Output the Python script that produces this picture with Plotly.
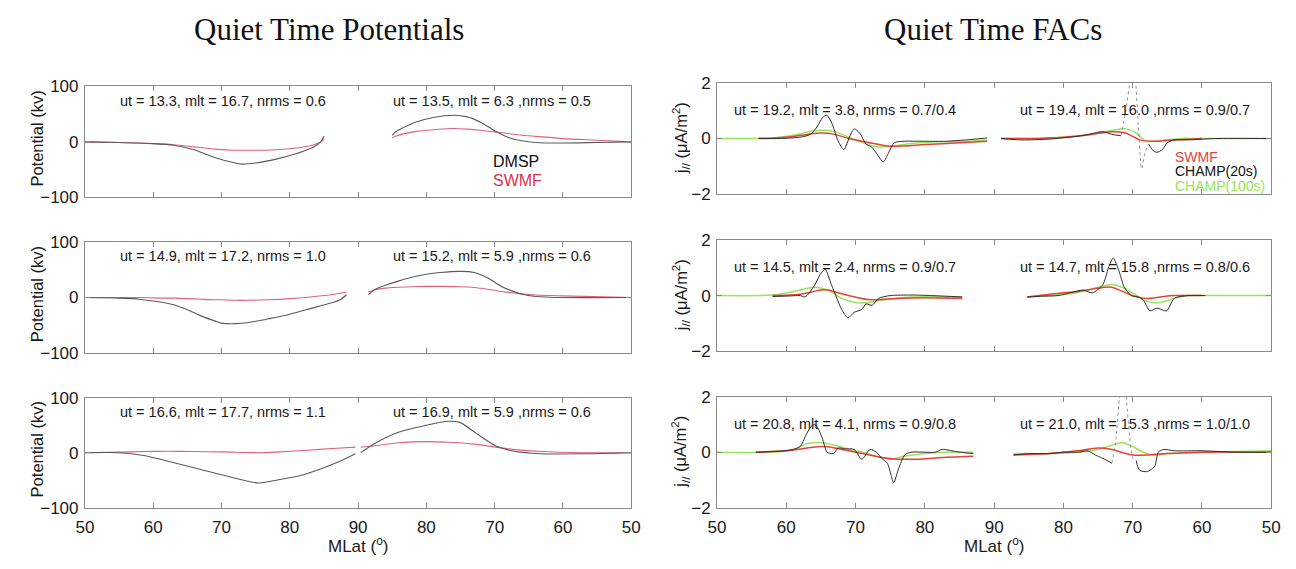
import plotly.graph_objects as go

W, H = 1296, 569

# ---------------- along-track latitude axis ----------------
TRACK_TICKS = [50, 60, 70, 80, 90, 80, 70, 60, 50]

# ---------------- Quiet time potentials (kV) ----------------
# row 1
POT1_UP_MLAT = [50, 55, 60, 63, 66, 69, 72, 73, 75, 78, 81, 83, 84, 84.7, 85]
POT1_UP_DMSP = [0, -1, -3, -6, -14, -28, -38, -40, -38, -31, -21, -12, -5, 3, 10]
POT1_UP_SWMF = [0, -1, -3, -5, -9, -13, -15, -15, -15, -14, -11, -7, -3, 1, 5]
POT1_DN_MLAT = [85, 84.5, 83.5, 81.5, 79, 76, 74, 72, 70, 68, 66, 64, 60, 55, 50]
POT1_DN_DMSP = [12, 18, 25, 36, 44, 48, 45, 35, 20, 8, 2, -1, -2, -1, 0]
POT1_DN_SWMF = [7, 10, 14, 19, 22, 24, 23, 21, 18, 15, 12, 10, 6, 3, 0]
# row 2
POT2_UP_MLAT = [50, 55, 58, 61, 63, 65, 67, 69, 70, 72, 74, 77, 80, 83, 86, 87.5, 88.3]
POT2_UP_DMSP = [0, -1, -3, -8, -13, -22, -33, -42, -46, -47, -45, -38, -30, -20, -10, -3, 5]
POT2_UP_SWMF = [0, 0, 0, -1, -1, -2, -3, -4, -4, -5, -5, -4, -2, 1, 5, 8, 10]
POT2_DN_MLAT = [88.5, 87.5, 86, 84, 82, 80, 78, 75, 73, 71, 69, 67.5, 66, 64, 60, 50]
POT2_DN_DMSP = [5, 15, 22, 30, 37, 42, 45, 47, 45, 35, 20, 12, 6, 2, 0, 0]
POT2_DN_SWMF = [10, 14, 17, 18.5, 19.5, 20, 20, 19.5, 18, 15, 11, 8.5, 6.5, 4.5, 3, 0]
# row 3
POT3_UP_MLAT = [50, 55, 58.6, 62, 65.8, 70, 75.4, 78, 82, 86.9, 89.6]
POT3_UP_DMSP = [0, 0, -5, -15, -27, -40, -55, -50, -40, -18, -2]
POT3_UP_SWMF = [0, 1, 2, 2.5, 2, 1.5, 0, 1, 4, 8, 10]
POT3_DN_MLAT = [89.6, 87.8, 84.1, 79.9, 76.9, 75.1, 72.7, 69.8, 67.3, 63.2, 57.1, 50]
POT3_DN_DMSP = [0, 15, 37, 50, 57, 55, 35, 12, 3, -2, -2, 0]
POT3_DN_SWMF = [10, 12, 18, 20, 19, 18, 15, 10, 6, 2, 0, 0]

# ---------------- Quiet time FACs (uA/m^2) ----------------
# row 1
FAC1_UP_CH20_MLAT = [56, 59, 62, 63.5, 64.5, 65.2, 65.8, 66.5, 67.5, 68.3, 69.2, 69.8, 70.6,
                     71.5, 72.3, 73.2, 74, 74.8, 75.6, 77, 80, 83, 86, 89]
FAC1_UP_CH20 = [0, 0, 0.05, 0.15, 0.45, 0.75, 0.85, 0.6, -0.1, -0.4, 0.1, 0.35, 0.2,
                -0.2, -0.3, -0.6, -0.85, -0.5, -0.15, -0.1, -0.1, -0.1, -0.05, 0.02]
FAC1_UP_SWMF_MLAT = [56, 60, 63, 65, 67, 69, 72, 75, 80, 85, 89]
FAC1_UP_SWMF = [0, 0.05, 0.15, 0.2, 0.15, 0, -0.15, -0.28, -0.22, -0.15, -0.1]
FAC1_UP_CH100_MLAT = [50, 55, 58, 61, 64, 65.5, 67, 69, 71, 73, 75, 78, 82, 86, 89]
FAC1_UP_CH100 = [0, 0, 0.02, 0.12, 0.28, 0.3, 0.25, 0.05, -0.15, -0.3, -0.28, -0.18, -0.12, -0.1, -0.05]
FAC1_DN_CH20_MLAT = [89, 86, 82, 79, 77, 75.5, 74.3, 73, 71.7]
FAC1_DN_CH20 = [0, -0.05, -0.02, 0.05, 0.12, 0.2, 0.25, 0.15, 0.1]
FAC1_DN_SPIKE_MLAT = [71.7, 71, 70.4, 69.8, 69.2, 68.7, 68.2, 67.7]
FAC1_DN_SPIKE = [0.1, 1.0, 2.0, 2.5, 0.5, -1.1, -0.5, -0.2]
FAC1_DN_CH20B_MLAT = [67.7, 67, 66.5, 65.7, 65, 64, 62, 58, 50]
FAC1_DN_CH20B = [-0.2, -0.45, -0.5, -0.4, -0.15, -0.05, -0.05, 0, 0]
FAC1_DN_SWMF_MLAT = [89, 85, 80, 76, 73, 71, 69, 67, 64, 60]
FAC1_DN_SWMF = [0, 0, 0.05, 0.15, 0.25, 0.2, -0.05, -0.1, -0.05, 0]
FAC1_DN_CH100_MLAT = [89, 85, 80, 76, 73, 71, 69.5, 68, 66, 63, 58, 50]
FAC1_DN_CH100 = [0, 0, 0.05, 0.15, 0.3, 0.35, 0.2, -0.1, -0.08, 0, 0, 0]
# row 2
FAC2_UP_CH20_MLAT = [58, 60, 62, 62.7, 63.9, 65, 65.6, 66.5, 67.3, 68, 68.9, 69.8, 70.9,
                     71.5, 72.4, 73.3, 75, 78, 81, 85.4]
FAC2_UP_CH20 = [-0.03, -0.02, 0, -0.05, 0.3, 0.8, 0.95, 0.4, -0.1, -0.5, -0.8, -0.6, -0.5,
                -0.3, -0.35, -0.1, 0, 0.02, 0, -0.05]
FAC2_UP_SWMF_MLAT = [58, 62, 65, 66, 69, 72, 76, 80, 85.4]
FAC2_UP_SWMF = [0, 0.05, 0.2, 0.2, 0, -0.15, -0.1, -0.08, -0.1]
FAC2_UP_CH100_MLAT = [50, 56, 59, 62, 64, 66, 68, 70, 72, 74, 78, 85.4]
FAC2_UP_CH100 = [0, 0, 0.05, 0.2, 0.3, 0.2, -0.1, -0.25, -0.25, -0.15, -0.05, -0.05]
FAC2_DN_CH20_MLAT = [85.2, 83, 80.8, 79, 77.2, 75.8, 74.3, 73.5, 72.8, 72, 71.2, 70.2, 69.2,
                     68.5, 67.5, 66.5, 65.1, 64, 62, 59.5]
FAC2_DN_CH20 = [-0.05, -0.02, 0, 0.1, 0.2, 0.1, 0.4, 1.0, 1.35, 0.9, 0.3, 0, -0.05,
                -0.15, -0.55, -0.45, -0.55, -0.1, 0, 0]
FAC2_DN_SWMF_MLAT = [85.2, 82, 78, 74, 73, 70, 68, 66, 64, 60]
FAC2_DN_SWMF = [-0.05, 0.05, 0.15, 0.3, 0.3, 0, -0.1, -0.05, 0, 0]
FAC2_DN_CH100_MLAT = [85.2, 82, 78, 75, 73, 71.5, 70, 68, 66, 64, 62, 58, 50]
FAC2_DN_CH100 = [-0.05, 0, 0.1, 0.3, 0.4, 0.3, 0.1, -0.2, -0.25, -0.1, 0, 0, 0]
# row 3
FAC3_UP_CH20_MLAT = [55.6, 59.7, 61, 62, 62.8, 63.5, 64.1, 64.6, 65.2, 65.9, 66.8, 67.5, 68.5,
                     69.8, 70.9, 72.1, 73, 73.9, 74.6, 75.1, 75.5, 76.2, 77.1, 78, 81.5,
                     82.5, 85, 87]
FAC3_UP_CH20 = [0, 0.05, 0.1, 0.2, 0.6, 0.9, 1.0, 0.85, 0.5, 0.0, -0.05, 0.15, 0.12,
                0.1, -0.25, 0.1, 0, -0.25, -0.4, -0.8, -1.1, -0.6, -0.1, 0, 0.0,
                0.1, 0, -0.05]
FAC3_UP_SWMF_MLAT = [55.6, 60, 63, 64.5, 66, 68, 70, 72, 74, 76, 79, 82, 87]
FAC3_UP_SWMF = [0, 0.05, 0.15, 0.2, 0.2, 0.1, 0, -0.1, -0.2, -0.25, -0.25, -0.2, -0.15]
FAC3_UP_CH100_MLAT = [50, 58, 61, 63, 65, 67, 69, 71, 73, 75, 77, 80, 83, 87]
FAC3_UP_CH100 = [0, 0, 0.1, 0.3, 0.35, 0.25, 0.1, 0, -0.15, -0.25, -0.15, -0.05, 0, 0]
FAC3_DN_CH20_MLAT = [87.2, 85, 82, 80, 77.8, 76.5, 75.4, 74.5, 73.7, 73]
FAC3_DN_CH20 = [-0.1, -0.05, -0.05, 0, 0, 0.05, -0.1, -0.2, -0.3, -0.4]
FAC3_DN_SPIKE_MLAT = [73, 72.4, 71.8, 71.2, 70.6, 70, 69.5]
FAC3_DN_SPIKE = [-0.4, 0.5, 2.1, 2.5, 1.0, -0.2, -0.3]
FAC3_DN_CH20B_MLAT = [69.5, 69, 68, 67.5, 66.8, 66.3, 65.5, 64, 60, 55, 50]
FAC3_DN_CH20B = [-0.3, -0.65, -0.7, -0.65, -0.5, 0, 0.1, 0.05, 0.05, 0, 0]
FAC3_DN_SWMF_MLAT = [87.2, 82, 78, 75, 73, 71, 70, 68, 65, 60, 50]
FAC3_DN_SWMF = [-0.1, -0.05, 0.05, 0.15, 0.1, -0.05, -0.1, -0.1, -0.05, 0, 0]
FAC3_DN_CH100_MLAT = [87.2, 82, 78, 75, 73, 71.5, 70, 68.5, 67, 65, 60, 50]
FAC3_DN_CH100 = [-0.05, -0.05, 0, 0.1, 0.25, 0.35, 0.2, 0, -0.1, -0.05, 0, 0.05]

# ---------------- per-pass labels ----------------
POT_LABELS = [
    ("ut = 13.3, mlt = 16.7, nrms = 0.6", "ut = 13.5, mlt = 6.3 ,nrms = 0.5"),
    ("ut = 14.9, mlt = 17.2, nrms = 1.0", "ut = 15.2, mlt = 5.9 ,nrms = 0.6"),
    ("ut = 16.6, mlt = 17.7, nrms = 1.1", "ut = 16.9, mlt = 5.9 ,nrms = 0.6"),
]
FAC_LABELS = [
    ("ut = 19.2, mlt = 3.8, nrms = 0.7/0.4", "ut = 19.4, mlt = 16.0 ,nrms = 0.9/0.7"),
    ("ut = 14.5, mlt = 2.4, nrms = 0.9/0.7", "ut = 14.7, mlt = 15.8 ,nrms = 0.8/0.6"),
    ("ut = 20.8, mlt = 4.1, nrms = 0.9/0.8", "ut = 21.0, mlt = 15.3 ,nrms = 1.0/1.0"),
]

# ---------------- styles ----------------
C_DMSP = "#5a5a5a"
C_SWMF_POT = "#e0607e"
C_CH20 = "#2e2e2e"
C_SWMF_FAC = "#e8403a"
C_CH100 = "#98e45a"
BOX = "#8a8a8a"
TXT = "#1a1a1a"
SANS = "Liberation Sans, Arial, sans-serif"
SERIF = "Liberation Serif, Times New Roman, serif"


def track(mlat, leg):
    """Position along the orbit: poleward leg 0..40, equatorward leg 40..80."""
    if leg == "up":
        return [m - 50 for m in mlat]
    return [130 - m for m in mlat]


def px_x(p):
    return p / W


def px_y(p):
    return 1 - p / H


# panel boxes in pixels
LEFT_X = (77, 631)
RIGHT_X = (718, 1280)
ROWS_L = [(80, 195), (241, 356), (402, 516)]
ROWS_R = [(77, 191), (239, 354), (401, 516)]

fig = go.Figure()


def add_line(ax, x, y, color, width, dash="solid", shape="spline"):
    fig.add_trace(go.Scatter(
        x=x, y=y, mode="lines", xaxis="x" + ax, yaxis="y" + ax,
        line=dict(color=color, width=width, dash=dash, shape=shape, smoothing=0.7),
        showlegend=False, hoverinfo="skip"))


pot_data = [
    (POT1_UP_MLAT, POT1_UP_DMSP, POT1_UP_SWMF, POT1_DN_MLAT, POT1_DN_DMSP, POT1_DN_SWMF),
    (POT2_UP_MLAT, POT2_UP_DMSP, POT2_UP_SWMF, POT2_DN_MLAT, POT2_DN_DMSP, POT2_DN_SWMF),
    (POT3_UP_MLAT, POT3_UP_DMSP, POT3_UP_SWMF, POT3_DN_MLAT, POT3_DN_DMSP, POT3_DN_SWMF),
]
for r, (um, ud, us, dm, dd, ds) in enumerate(pot_data):
    ax = "" if r == 0 else str(r + 1)
    add_line(ax, track(um, "up"), us, C_SWMF_POT, 1.1)
    add_line(ax, track(dm, "dn"), ds, C_SWMF_POT, 1.1)
    add_line(ax, track(um, "up"), ud, C_DMSP, 1.1)
    add_line(ax, track(dm, "dn"), dd, C_DMSP, 1.1)

fac_data = [
    dict(up=[(FAC1_UP_CH100_MLAT, FAC1_UP_CH100, C_CH100), (FAC1_UP_SWMF_MLAT, FAC1_UP_SWMF, C_SWMF_FAC),
             (FAC1_UP_CH20_MLAT, FAC1_UP_CH20, C_CH20)],
         dn=[(FAC1_DN_CH100_MLAT, FAC1_DN_CH100, C_CH100), (FAC1_DN_SWMF_MLAT, FAC1_DN_SWMF, C_SWMF_FAC),
             (FAC1_DN_CH20_MLAT, FAC1_DN_CH20, C_CH20), (FAC1_DN_CH20B_MLAT, FAC1_DN_CH20B, C_CH20)],
         spike=(FAC1_DN_SPIKE_MLAT, FAC1_DN_SPIKE)),
    dict(up=[(FAC2_UP_CH100_MLAT, FAC2_UP_CH100, C_CH100), (FAC2_UP_SWMF_MLAT, FAC2_UP_SWMF, C_SWMF_FAC),
             (FAC2_UP_CH20_MLAT, FAC2_UP_CH20, C_CH20)],
         dn=[(FAC2_DN_CH100_MLAT, FAC2_DN_CH100, C_CH100), (FAC2_DN_SWMF_MLAT, FAC2_DN_SWMF, C_SWMF_FAC),
             (FAC2_DN_CH20_MLAT, FAC2_DN_CH20, C_CH20)],
         spike=None),
    dict(up=[(FAC3_UP_CH100_MLAT, FAC3_UP_CH100, C_CH100), (FAC3_UP_SWMF_MLAT, FAC3_UP_SWMF, C_SWMF_FAC),
             (FAC3_UP_CH20_MLAT, FAC3_UP_CH20, C_CH20)],
         dn=[(FAC3_DN_CH100_MLAT, FAC3_DN_CH100, C_CH100), (FAC3_DN_SWMF_MLAT, FAC3_DN_SWMF, C_SWMF_FAC),
             (FAC3_DN_CH20_MLAT, FAC3_DN_CH20, C_CH20), (FAC3_DN_CH20B_MLAT, FAC3_DN_CH20B, C_CH20)],
         spike=(FAC3_DN_SPIKE_MLAT, FAC3_DN_SPIKE)),
]
for r, d in enumerate(fac_data):
    ax = str(r + 4)
    for m, v, c in d["up"]:
        add_line(ax, track(m, "up"), v, c, 1.0 if c == C_CH20 else 1.5)
    for m, v, c in d["dn"]:
        add_line(ax, track(m, "dn"), v, c, 1.0 if c == C_CH20 else 1.5)
    if d["spike"]:
        m, v = d["spike"]
        add_line(ax, track(m, "dn"), v, "#777777", 0.8, dash="dot")

layout = dict(
    width=W, height=H, margin=dict(l=0, r=0, t=0, b=0),
    paper_bgcolor="white", plot_bgcolor="white",
    font=dict(family=SANS, size=17, color=TXT),
    showlegend=False,
)

axis_common = dict(showline=True, linecolor=BOX, linewidth=1, mirror="ticks",
                   ticks="inside", ticklen=5, tickcolor=BOX, showgrid=False,
                   zeroline=False, fixedrange=True,
                   tickfont=dict(family=SANS, size=17, color=TXT))

annotations = []
for i in range(6):
    n = "" if i == 0 else str(i + 1)
    right = i >= 3
    r = i % 3
    xl, xr = RIGHT_X if right else LEFT_X
    yt, yb = (ROWS_R if right else ROWS_L)[r]
    layout["xaxis" + n] = dict(
        axis_common, domain=[px_x(xl), px_x(xr)], range=[0, 80],
        tickvals=list(range(0, 81, 10)), ticktext=[str(t) for t in TRACK_TICKS],
        showticklabels=(r == 2), ticklabelstandoff=4, anchor="y" + n)
    if right:
        yr, yv, yt_txt = [-2, 2], [-2, 0, 2], ["\u22122", "0", "2"]
    else:
        yr, yv, yt_txt = [-100, 100], [-100, 0, 100], ["\u2212100", "0", "100"]
    layout["yaxis" + n] = dict(
        axis_common, domain=[px_y(yb), px_y(yt)], range=yr,
        tickvals=yv, ticktext=yt_txt, ticklabelstandoff=2, anchor="x" + n)

    # per-pass annotation text
    labels = (FAC_LABELS if right else POT_LABELS)[r]
    if right:
        centers, ty = (848, 1142), yt + 28
    else:
        centers, ty = (217, 490), yt + 15
    for cx, txt in zip(centers, labels):
        annotations.append(dict(x=px_x(cx), y=px_y(ty), xref="paper", yref="paper",
                                text=txt, showarrow=False, xanchor="center", yanchor="middle",
                                font=dict(family=SANS, size=14.5, color=TXT)))
    # y-axis titles
    if right:
        ytitle, tx, ty2 = "j<sub>//</sub> (\u03bcA/m<sup>2</sup>)", 681, (yt + yb) / 2
    else:
        ytitle, tx, ty2 = "Potential (kv)", 28, (yt + yb) / 2 - 3
    annotations.append(dict(x=px_x(tx), y=px_y(ty2), xref="paper", yref="paper",
                            text=ytitle, textangle=-90, showarrow=False,
                            xanchor="center", yanchor="middle",
                            font=dict(family=SANS, size=16.5, color=TXT)))

# column titles
for cx, txt in ((324, "Quiet Time Potentials"), (998, "Quiet Time FACs")):
    annotations.append(dict(x=px_x(cx), y=px_y(21), xref="paper", yref="paper", text=txt,
                            showarrow=False, xanchor="center", yanchor="middle",
                            font=dict(family=SERIF, size=31, color="#111111")))
# x-axis titles
for cx in ((LEFT_X[0] + LEFT_X[1]) / 2, (RIGHT_X[0] + RIGHT_X[1]) / 2):
    annotations.append(dict(x=px_x(cx), y=px_y(554), xref="paper", yref="paper",
                            text="MLat (<sup>o</sup>)", showarrow=False,
                            xanchor="center", yanchor="middle",
                            font=dict(family=SANS, size=17, color=TXT)))

# series keys
for txt, col, yy in (("DMSP", "#111111", 158), ("SWMF", "#e0304a", 177)):
    annotations.append(dict(x=px_x(489), y=px_y(yy), xref="paper", yref="paper", text=txt,
                            showarrow=False, xanchor="left", yanchor="middle",
                            font=dict(family=SANS, size=16, color=col)))
for txt, col, yy in (("SWMF", "#e8403a", 153), ("CHAMP(20s)", "#111111", 168),
                     ("CHAMP(100s)", "#98e45a", 183)):
    annotations.append(dict(x=px_x(1180), y=px_y(yy), xref="paper", yref="paper", text=txt,
                            showarrow=False, xanchor="left", yanchor="middle",
                            font=dict(family=SANS, size=14, color=col)))

layout["annotations"] = annotations
fig.update_layout(layout)
fig.write_html("out.html")
